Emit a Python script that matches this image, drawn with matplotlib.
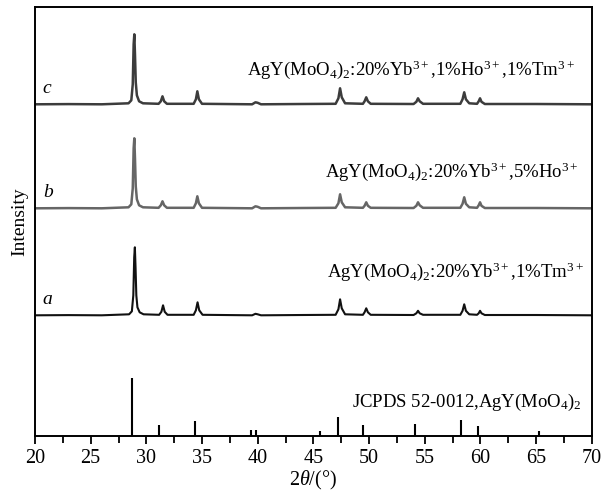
import matplotlib
matplotlib.use("Agg")
import matplotlib.pyplot as plt

plt.rcParams['font.family'] = ['Liberation Serif', 'DejaVu Serif']
plt.rcParams['mathtext.fontset'] = 'custom'
plt.rcParams['mathtext.rm'] = 'Liberation Serif'
plt.rcParams['mathtext.it'] = 'Liberation Serif:italic'

# traced pattern points: 2theta and intensity above each curve's own baseline
two_theta_c = [20, 23, 26, 28.4, 28.65, 28.78, 28.86, 28.92, 28.98, 29.05, 29.15, 29.35, 29.7,
               31.1, 31.3, 31.45, 31.6, 31.85, 34.25, 34.45, 34.58, 34.72, 35.0,
               39.5, 39.8, 40.0, 40.3, 44, 47.0, 47.25, 47.4, 47.55, 47.85,
               49.45, 49.6, 49.75, 49.9, 50.15, 54.0, 54.25, 54.4, 54.55, 54.85,
               58.2, 58.4, 58.55, 58.7, 59.0, 59.7, 59.85, 59.97, 60.1, 60.4, 65, 70]
inten_c = [0, 0.2, 0, 1, 4, 20, 60, 70, 50, 22, 9, 3, 1,
           0.5, 3, 8, 3, 0.5, 0.5, 5, 13, 5, 0.5,
           0, 2, 1.5, 0, 0.3, 0.5, 6, 16, 7, 1,
           0.5, 3, 7, 3, 0.5, 0.3, 2.5, 6, 3, 0.5,
           0.5, 5, 12, 5, 1, 0.5, 3, 6, 2.5, 0.3, 0.3, 0]

two_theta_b = two_theta_c
inten_b = [0, 0.2, 0, 1, 4, 20, 60, 70, 50, 22, 9, 3, 1,
           0.5, 3, 7, 3, 0.5, 0.5, 5, 12, 5, 0.5,
           0, 2, 1.5, 0, 0.3, 0.5, 5, 14, 6, 1,
           0.5, 2.5, 6, 2.5, 0.5, 0.3, 2.5, 6, 3, 0.5,
           0.5, 4.5, 11, 4.5, 1, 0.5, 3, 6, 2.5, 0.3, 0.3, 0]

two_theta_a = [20, 23, 26, 28.45, 28.7, 28.83, 28.91, 28.97, 29.03, 29.1, 29.2, 29.4, 29.75,
               31.15, 31.35, 31.5, 31.65, 31.9, 34.25, 34.45, 34.6, 34.75, 35.05,
               39.5, 39.8, 40.0, 40.3, 44, 47.0, 47.25, 47.4, 47.55, 47.85,
               49.45, 49.6, 49.75, 49.9, 50.15, 54.0, 54.25, 54.4, 54.55, 54.85,
               58.2, 58.4, 58.55, 58.7, 59.0, 59.7, 59.85, 59.97, 60.1, 60.4, 65, 70]
inten_a = [0, 0.2, 0, 1, 4, 20, 58, 68, 48, 20, 8, 3, 1,
           0.5, 3.5, 10, 3.5, 0.5, 0.5, 5, 13, 5, 0.5,
           0, 1.5, 1, 0, 0.3, 0.5, 6, 16, 7, 1,
           0.5, 3, 7, 3, 0.5, 0.3, 2, 4.5, 2, 0.5,
           0.5, 4.5, 11, 4.5, 1, 0.5, 2, 4.5, 2, 0.3, 0.3, 0]

# JCPDS 52-0012 reference lines
ref_pos = [28.7, 31.18, 34.38, 39.41, 39.83, 45.6, 47.22, 49.5, 54.1, 58.29, 59.77, 65.25]
ref_int = [58, 11, 15, 6, 6, 5, 19, 11, 12, 16, 10, 5]

offsets = {'a': 121, 'b': 228, 'c': 332}
labels = {
    'a': r'AgY(MoO$_4$)$_2$:20%Yb$^{3+}$,1%Tm$^{3+}$',
    'b': r'AgY(MoO$_4$)$_2$:20%Yb$^{3+}$,5%Ho$^{3+}$',
    'c': r'AgY(MoO$_4$)$_2$:20%Yb$^{3+}$,1%Ho$^{3+}$,1%Tm$^{3+}$',
}
ref_label = r'JCPDS 52-0012,AgY(MoO$_4$)$_2$'

fig = plt.figure(figsize=(6.14, 4.93), dpi=100)
ax = fig.add_axes([0.057, 0.115, 0.9067, 0.8708])

curves = [('a', two_theta_a, inten_a, '#111111', 1.5),
          ('b', two_theta_b, inten_b, '#666666', 1.8),
          ('c', two_theta_c, inten_c, '#3c3c3c', 1.8)]
label_x = {'a': 69.3, 'b': 68.8, 'c': 68.45}
label_y = {'a': 38, 'b': 31, 'c': 29}
for key, xs, ys, col, lw in curves:
    off = offsets[key]
    ax.plot(xs, [y + off for y in ys], color=col, lw=lw)
    ax.text(label_x[key], off + label_y[key], labels[key], ha='right', va='baseline', fontsize=13.5)
    ax.text(20.7, off + 11, key, style='italic', ha='left', va='baseline', fontsize=14)

ax.vlines(ref_pos, 0, ref_int, color='black', lw=1.5)
ax.text(69.1, 29, ref_label, ha='right', va='baseline', fontsize=13.5)

ax.set_xlim(20, 70)
ax.set_ylim(0, 429.3)
ax.set_xticks(range(20, 71, 5))
ax.set_xticks([22.5 + 5 * i for i in range(10)], minor=True)
ax.set_yticks([])
ax.tick_params(axis='x', which='major', direction='out', length=6, width=1.3, labelsize=14.5, pad=3)
ax.tick_params(axis='x', which='minor', direction='out', length=5, width=1.3)
for s in ax.spines.values():
    s.set_linewidth(1.4)

ax.set_xlabel(r'2$\theta$/(°)', fontsize=14.5, labelpad=1)
ax.set_ylabel('Intensity', fontsize=14, labelpad=5)

fig.savefig('out.png', dpi=100)
